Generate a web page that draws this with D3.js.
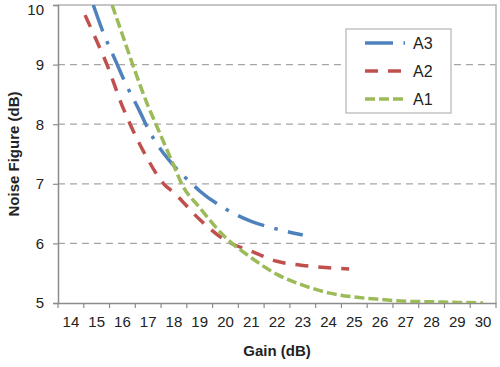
<!DOCTYPE html>
<html>
<head>
<meta charset="utf-8">
<script src="https://cdn.jsdelivr.net/npm/d3@7"></script>
<style>
  body { margin: 0; background: #fff; }
  text { font-family: "Liberation Sans", Arial, sans-serif; fill: #222; }
</style>
</head>
<body>
<div id="chart"></div>
<script>
// gain categories on the x axis
const gainTicks = [14, 15, 16, 17, 18, 19, 20, 21, 22, 23, 24, 25, 26, 27, 28, 29, 30];
const nfTicks = [5, 6, 7, 8, 9, 10];

// [gain, noise figure]
const a3Gain = [14.87, 15.2, 15.8, 16.0, 16.7, 17.0, 18.0, 18.7, 19.0, 20.0, 21.0, 22.0, 23.0];
const a3NF   = [10.0, 9.6, 9.0, 8.8, 8.19, 7.92, 7.3, 7.0, 6.88, 6.58, 6.37, 6.24, 6.14];

const a2Gain = [14.55, 15.0, 15.4, 16.0, 16.3, 17.0, 17.6, 18.0, 19.0, 20.0, 21.0, 22.0, 23.0, 24.0, 24.8];
const a2NF   = [9.83, 9.4, 9.0, 8.3, 8.0, 7.4, 7.0, 6.85, 6.4, 6.05, 5.87, 5.7, 5.63, 5.59, 5.57];

const a1Gain = [15.6, 16.0, 16.4, 17.0, 17.3, 18.0, 18.3, 19.0, 20.0, 21.0, 22.0, 23.0, 24.0, 25.0, 26.0, 27.0, 28.0, 29.0, 30.0];
const a1NF   = [10.0, 9.5, 9.0, 8.3, 8.0, 7.3, 7.0, 6.6, 6.1, 5.76, 5.48, 5.3, 5.17, 5.1, 5.06, 5.03, 5.02, 5.01, 5.0];

const seriesNames = ["A3", "A2", "A1"];

const width = 500, height = 367;
const margin = { left: 58, top: 5, right: 4, bottom: 64 };
const plotW = width - margin.left - margin.right;
const plotH = height - margin.top - margin.bottom;

const series = [
  { name: "A3", gain: a3Gain, nf: a3NF, color: "#4f81bd", dash: "28,10.5,3.5,10.5" },
  { name: "A2", gain: a2Gain, nf: a2NF, color: "#c0504d", dash: "13,10" },
  { name: "A1", gain: a1Gain, nf: a1NF, color: "#9bbb59", dash: "10,4" }
];

const svg = d3.select("#chart").append("svg")
  .attr("width", width)
  .attr("height", height);

const g = svg.append("g").attr("transform", `translate(${margin.left},${margin.top})`);

// category axis: labels sit between tick marks
const xBand = d3.scaleBand().domain(gainTicks).range([0, plotW]);
const x = d3.scaleLinear()
  .domain([gainTicks[0] - 0.5, gainTicks[gainTicks.length - 1] + 0.5])
  .range([0, plotW]);
const y = d3.scaleLinear().domain([5, 10]).range([plotH, 0]);

// gridlines
g.append("g")
  .selectAll("line")
  .data(nfTicks.slice(1, -1))
  .join("line")
  .attr("x1", 0).attr("x2", plotW)
  .attr("y1", d => y(d)).attr("y2", d => y(d))
  .attr("stroke", "#a6a6a6")
  .attr("stroke-width", 1.2)
  .attr("stroke-dasharray", "7,5");

// plot border (top / right)
g.append("path")
  .attr("d", `M0,0H${plotW}V${plotH}`)
  .attr("fill", "none")
  .attr("stroke", "#b4b4b4")
  .attr("stroke-width", 1.5);

// y axis
const yAxis = g.append("g")
  .call(d3.axisLeft(y).tickValues(nfTicks).tickFormat(d3.format("d")).tickSize(5).tickPadding(9));
yAxis.select(".domain").attr("stroke", "#8c8c8c").attr("stroke-width", 1.5);
yAxis.selectAll(".tick line").attr("stroke", "#8c8c8c").attr("stroke-width", 1.2);
yAxis.selectAll("text")
  .style("font-family", "Liberation Sans, Arial, sans-serif")
  .attr("font-size", 15)
  .attr("fill", "#222");
// top label would sit on the window edge; nudge it so it stays whole
yAxis.selectAll(".tick").filter(d => d === 10).select("text").attr("dy", "0.62em");

// x axis
const xAxis = g.append("g")
  .attr("transform", `translate(0,${plotH})`)
  .call(d3.axisBottom(xBand).tickSize(0).tickPadding(13));
xAxis.select(".domain").attr("stroke", "#8c8c8c").attr("stroke-width", 1.5);
xAxis.selectAll("text")
  .style("font-family", "Liberation Sans, Arial, sans-serif")
  .attr("font-size", 15)
  .attr("fill", "#222");
xAxis.append("g")
  .selectAll("line")
  .data(d3.range(gainTicks.length + 1))
  .join("line")
  .attr("x1", d => d * xBand.step()).attr("x2", d => d * xBand.step())
  .attr("y1", 0).attr("y2", 5)
  .attr("stroke", "#8c8c8c")
  .attr("stroke-width", 1.2);

// axis titles
svg.append("text")
  .attr("x", margin.left + plotW / 2)
  .attr("y", 356)
  .attr("text-anchor", "middle")
  .attr("font-size", 15)
  .attr("font-weight", "bold")
  .text("Gain (dB)");

svg.append("text")
  .attr("transform", `translate(19,${margin.top + plotH / 2}) rotate(-90)`)
  .attr("text-anchor", "middle")
  .attr("font-size", 15)
  .attr("font-weight", "bold")
  .text("Noise Figure (dB)");

// curves
svg.append("clipPath").attr("id", "plotClip")
  .append("rect").attr("width", plotW).attr("height", plotH);

const line = d3.line()
  .x(d => x(d[0]))
  .y(d => y(d[1]))
  .curve(d3.curveMonotoneX);

g.append("g")
  .attr("clip-path", "url(#plotClip)")
  .selectAll("path")
  .data(series)
  .join("path")
  .attr("d", s => line(d3.zip(s.gain, s.nf)))
  .attr("fill", "none")
  .attr("stroke", s => s.color)
  .attr("stroke-width", 3.5)
  .attr("stroke-dasharray", s => s.dash);

// legend
const legend = svg.append("g").attr("transform", "translate(346,29)");
legend.append("rect")
  .attr("width", 105).attr("height", 84)
  .attr("fill", "#fff")
  .attr("stroke", "#b4b4b4")
  .attr("stroke-width", 1.2);

const item = legend.selectAll("g.item")
  .data(series)
  .join("g")
  .attr("class", "item")
  .attr("transform", (d, i) => `translate(0,${14 + i * 28})`);

item.append("line")
  .attr("x1", 19).attr("x2", 59)
  .attr("stroke", d => d.color)
  .attr("stroke-width", 3.5)
  .attr("stroke-dasharray", d => d.dash);

item.append("text")
  .attr("x", 67)
  .attr("dy", "0.36em")
  .attr("font-size", 16)
  .text((d, i) => seriesNames[i]);
</script>
</body>
</html>
